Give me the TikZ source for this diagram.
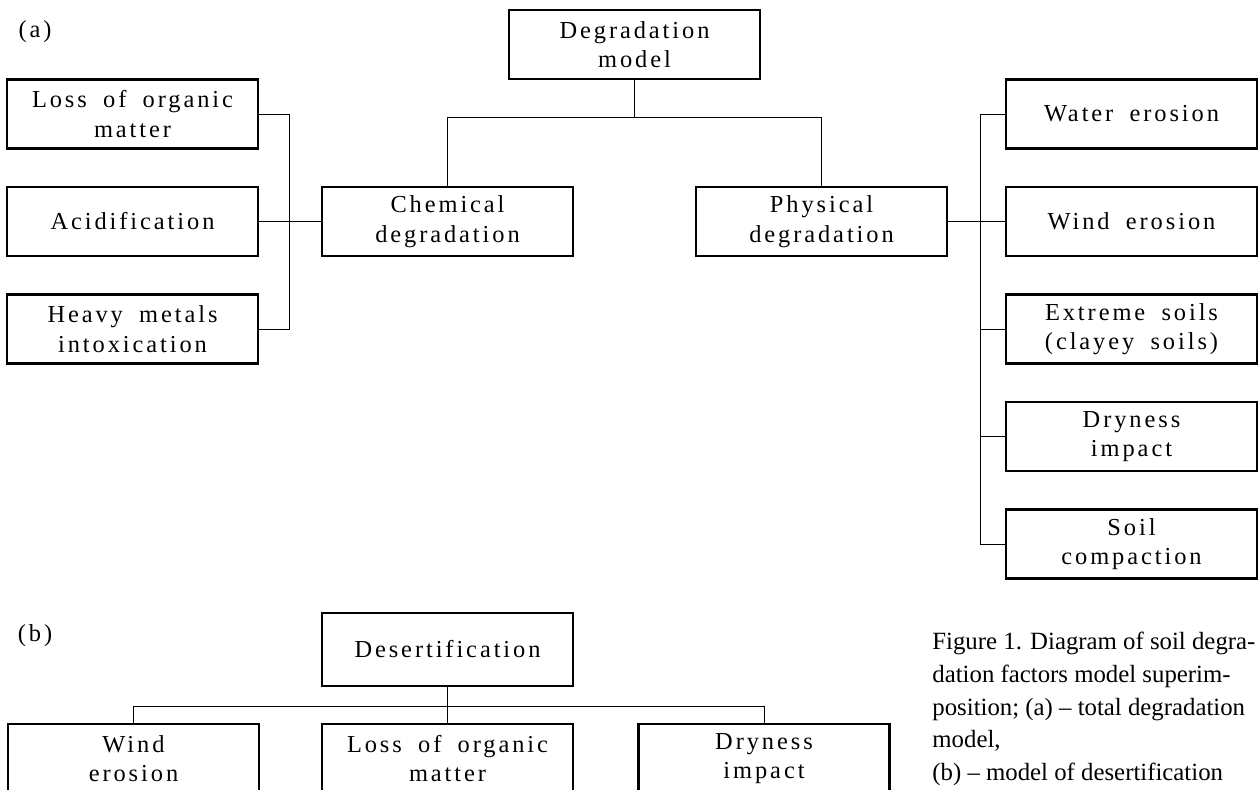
\documentclass[tikz,border=0pt]{standalone}
\usepackage{fontspec}
\setmainfont{Liberation Serif}
\newfontfamily\boxfont[LetterSpace=12, WordSpace=1.8]{Liberation Serif}

\begin{document}
\begin{tikzpicture}[x=0.5pt, y=-0.5pt,
  factor/.style={rectangle, draw=black, line width=1.2pt, minimum width=125.5pt, minimum height=34.5pt, inner sep=0pt, align=center, font=\boxfont\fontsize{12.2}{14.8}\selectfont},
  link/.style={draw=black, line width=0.5pt}]

\useasboundingbox (0,0) rectangle (1258,789);

% (a) total degradation model
\node (la) at (35, 32) [font=\boxfont\fontsize{12.2}{14.8}\selectfont] {(a)};

\node (deg) at (634.5, 44.5) [factor] {Degradation\\model};
\node (chem) at (447.5, 221.5) [factor] {Chemical\\degradation};
\node (phys) at (821.5, 221.5) [factor] {Physical\\degradation};

\node (lom) at (132.5, 114) [factor] {Loss of organic\\matter};
\node (acid) at (132.5, 221.5) [factor] {Acidification};
\node (heavy) at (132.5, 329) [factor] {Heavy metals\\intoxication};

\node (water) at (1131.5, 114) [factor] {Water erosion};
\node (wind) at (1131.5, 221.5) [factor] {Wind erosion};
\node (extreme) at (1131.5, 329) [factor] {Extreme soils\\(clayey soils)};
\node (dry) at (1131.5, 436.5) [factor] {Dryness\\impact};
\node (soil) at (1131.5, 544) [factor] {Soil\\compaction};

\coordinate (busA) at (0, 117);
\coordinate (trunkL) at (289, 0);
\coordinate (trunkR) at (980, 0);

\draw[link] (deg.south) -- (deg.south |- busA);
\draw[link] (chem.north) |- (phys.north |- busA) -- (phys.north);

\draw[link] (lom.east) -| (trunkL |- heavy.east) -- (heavy.east);
\draw[link] (acid.east) -- (chem.west);

\draw[link] (phys.east) -- (phys.east -| trunkR);
\draw[link] (water.west) -| (trunkR |- soil.west) -- (soil.west);
\foreach \n in {wind, extreme, dry}
  \draw[link] (\n.west) -- (\n.west -| trunkR);

% (b) model of desertification
\node (lb) at (35, 636) [font=\boxfont\fontsize{12.2}{14.8}\selectfont] {(b)};

\node (des) at (447.5, 649.5) [factor, minimum height=36.5pt] {Desertification};
\node (wind2) at (133.5, 758.5) [factor] {Wind\\erosion};
\node (loss2) at (447.5, 758.5) [factor] {Loss of organic\\matter};
\node (dry2) at (764, 758.5) [factor] {Dryness\\impact};

\coordinate (busB) at (0, 706);
\draw[link] (des.south) -- (loss2.north);
\draw[link] (wind2.north) |- (dry2.north |- busB) -- (dry2.north);

\node (caption) at (932, 632) [anchor=north west, align=left, inner sep=0pt, font=\fontsize{12.4}{16.3}\selectfont]
  {Figure 1. Diagram of soil degra-\\dation factors model superim-\\position; (a) -- total degradation\\model,\\(b) -- model of desertification};

\end{tikzpicture}
\end{document}
